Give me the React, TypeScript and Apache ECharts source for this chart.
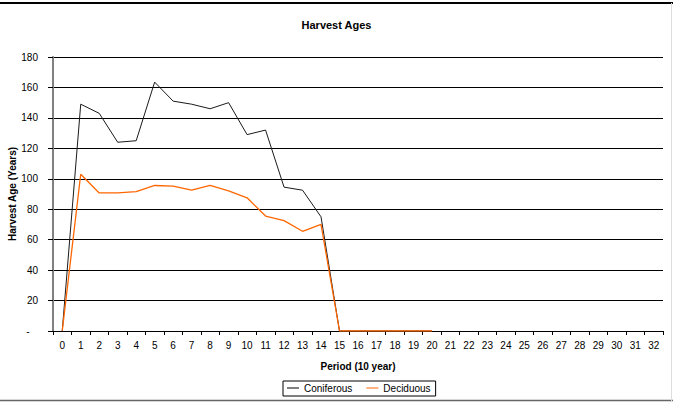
import React, { useEffect, useRef } from "react";
import * as echarts from "echarts";

const periods = Array.from({ length: 33 }, (_, i) => String(i));
const coniferous = [0, 149, 143, 124, 125, 163.5, 151, 149, 146, 150, 129, 132, 94.5, 92.5, 75, 0, 0, 0, 0, 0, 0];
const deciduous = [0, 103, 90.7, 90.7, 91.5, 95.6, 95.2, 92.5, 95.6, 92, 87.5, 75.5, 72.5, 65.5, 70, 0, 0, 0, 0, 0, 0];

const FONT = "Liberation Sans, Arial, sans-serif";

export default function App() {
  const ref = useRef<HTMLDivElement>(null);
  useEffect(() => {
    const chart = echarts.init(ref.current!, null, { renderer: "svg" });
    chart.setOption({
      animation: false,
      backgroundColor: "#ffffff",
      textStyle: { fontFamily: FONT },
      title: {
        text: "Harvest Ages",
        left: "center",
        top: 14,
        textStyle: { fontSize: 11, fontWeight: "bold", color: "#000", fontFamily: FONT },
      },
      grid: { left: 53, right: 10, top: 57, bottom: 71, containLabel: false, outerBoundsMode: "none" },
      legend: {
        bottom: 6,
        left: 283,
        itemWidth: 12,
        itemHeight: 1,
        itemGap: 14,
        borderColor: "#000",
        borderWidth: 1,
        borderRadius: 0,
        padding: [2, 5, 3, 4],
        icon: "rect",
        textStyle: { fontSize: 10, color: "#000", fontFamily: FONT },
        data: ["Coniferous", "Deciduous"],
      },
      xAxis: {
        type: "category",
        data: periods,
        boundaryGap: true,
        name: "Period (10 year)",
        nameLocation: "middle",
        nameGap: 30,
        nameMoveOverlap: false,
        nameTextStyle: { fontSize: 10, fontWeight: "bold", color: "#000", fontFamily: FONT },
        axisLine: { lineStyle: { color: "#000", width: 1 } },
        axisTick: { show: true, inside: false, length: 4, alignWithLabel: false, lineStyle: { color: "#000" } },
        axisLabel: { fontSize: 10, color: "#000", margin: 9, interval: 0, fontFamily: FONT },
        splitLine: { show: false },
      },
      yAxis: {
        type: "value",
        min: 0,
        max: 180,
        interval: 20,
        name: "Harvest Age (Years)",
        nameLocation: "middle",
        nameGap: 36,
        nameMoveOverlap: false,
        nameTextStyle: { fontSize: 10, fontWeight: "bold", color: "#000", fontFamily: FONT },
        axisLine: { show: true, lineStyle: { color: "#808080", width: 2 } },
        axisTick: { show: true, inside: false, length: 5, lineStyle: { color: "#000" } },
        axisLabel: {
          fontSize: 10,
          color: "#000",
          margin: 15,
          fontFamily: FONT,
          formatter: (v: number) => (v === 0 ? "-\u00a0\u00a0\u00a0" : String(v)),
        },
        splitLine: { show: true, lineStyle: { color: "#000", width: 1 } },
      },
      series: [
        {
          name: "Coniferous",
          type: "line",
          data: coniferous,
          symbol: "none",
          color: "#000000",
          lineStyle: { color: "#1a1a1a", width: 1 },
        },
        {
          name: "Deciduous",
          type: "line",
          data: deciduous,
          symbol: "none",
          color: "#ff6600",
          lineStyle: { color: "#ff6600", width: 1.3 },
        },
      ],
      graphic: [
        { type: "line", shape: { x1: 0, y1: 3, x2: 673, y2: 3 }, style: { stroke: "#000", lineWidth: 2 } },
        { type: "line", shape: { x1: 0, y1: 400.5, x2: 673, y2: 400.5 }, style: { stroke: "#666", lineWidth: 1.5 } },
        { type: "line", shape: { x1: 671.5, y1: 3, x2: 671.5, y2: 401 }, style: { stroke: "#ddd", lineWidth: 1 } },
      ],
    });
    return () => chart.dispose();
  }, []);
  return <div ref={ref} style={{ width: 673, height: 402, position: "absolute", left: 0, top: 0 }} />;
}
